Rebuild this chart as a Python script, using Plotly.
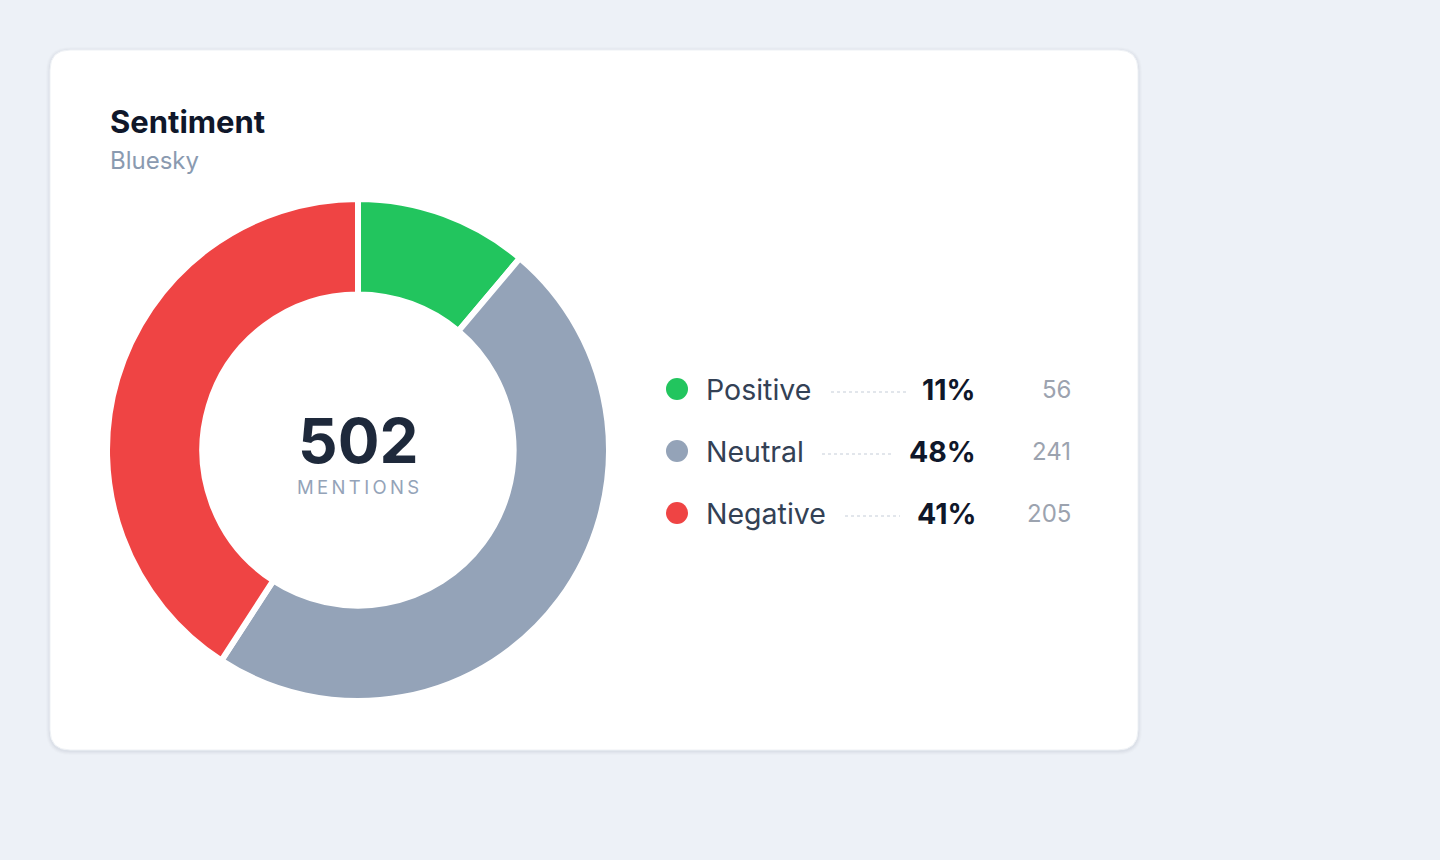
import plotly.graph_objects as go

# ---- data ----
categories = ["Positive", "Neutral", "Negative"]
counts = [56, 241, 205]
percent_labels = ["11%", "48%", "41%"]
colors = ["#22c55e", "#94a3b8", "#ef4444"]
total_label = "502"
title = "Sentiment"
subtitle = "Bluesky"
center_caption = "MENTIONS"

W, H = 1440, 860
FONT = "Inter, Noto Sans, sans-serif"

fig = go.Figure()

# invisible pixel-based axes for layout
fig.add_trace(go.Scatter(x=[0, W], y=[0, H], mode="markers",
                         marker=dict(opacity=0), hoverinfo="skip", showlegend=False))

# donut
cx, cy, R = 358, 450, 251
fig.add_trace(go.Pie(
    labels=categories, values=counts,
    marker=dict(colors=colors, line=dict(color="#ffffff", width=6)),
    hole=0.62, sort=False, direction="clockwise", rotation=0,
    textinfo="none", hoverinfo="label+value+percent", showlegend=False,
    domain=dict(x=[(cx - R) / W, (cx + R) / W], y=[(H - cy - R) / H, (H - cy + R) / H]),
))

shapes = []
def rrect(x0, y0, x1, y1, r):
    return (f"M {x0+r},{y0} L {x1-r},{y0} Q {x1},{y0} {x1},{y0+r} "
            f"L {x1},{y1-r} Q {x1},{y1} {x1-r},{y1} L {x0+r},{y1} "
            f"Q {x0},{y1} {x0},{y1-r} L {x0},{y0+r} Q {x0},{y0} {x0+r},{y0} Z")

# soft shadow
for i, op in enumerate([0.025, 0.02, 0.015, 0.01]):
    d = i + 1
    shapes.append(dict(type="path", xref="x", yref="y", layer="below",
                       path=rrect(50 - d, 50 - d + 1, 1138 + d, 750 + d + 1, 20 + d),
                       fillcolor=f"rgba(15,23,42,{op})", line=dict(width=0)))
# card
shapes.append(dict(type="path", xref="x", yref="y", layer="below",
                   path=rrect(50, 50, 1138, 750, 20),
                   fillcolor="#ffffff", line=dict(color="#eef1f5", width=1)))

annotations = [
    dict(x=108, y=121, text=f"<b>{title}</b>", xanchor="left", yanchor="middle",
         font=dict(family=FONT, size=31, color="#0f172a")),
    dict(x=108, y=160, text=subtitle, xanchor="left", yanchor="middle",
         font=dict(family=FONT, size=24, color="#8a9ab0")),
    dict(x=cx, y=440, text=f"<b>{total_label}</b>", xanchor="center", yanchor="middle",
         font=dict(family=FONT, size=62, color="#1e293b")),
    dict(x=cx, y=487, text="\u2009".join(center_caption), xanchor="center", yanchor="middle",
         font=dict(family=FONT, size=18.5, color="#94a3b8")),
]

row_y = [389, 451, 513]
leader_x = [(831, 906), (822, 892), (845, 900)]
for i, cat in enumerate(categories):
    y = row_y[i]
    shapes.append(dict(type="circle", xref="x", yref="y", x0=666, x1=688, y0=y - 11, y1=y + 11,
                       fillcolor=colors[i], line=dict(width=0)))
    annotations.append(dict(x=704, y=y + 0.5, text=cat, xanchor="left", yanchor="middle",
                            font=dict(family=FONT, size=28.5, color="#334155")))
    annotations.append(dict(x=978, y=y + 0.5, text=f"<b>{percent_labels[i]}</b>", xanchor="right",
                            yanchor="middle", font=dict(family=FONT, size=28.5, color="#0f172a")))
    annotations.append(dict(x=1073, y=y, text=str(counts[i]), xanchor="right", yanchor="middle",
                            font=dict(family=FONT, size=24, color="#9ca3af")))
    shapes.append(dict(type="line", xref="x", yref="y", x0=leader_x[i][0], x1=leader_x[i][1],
                       y0=y + 3, y1=y + 3, line=dict(color="#c5cdd8", width=1, dash="dot")))

for a in annotations:
    a.update(xref="x", yref="y", showarrow=False)

fig.update_layout(
    width=W, height=H, margin=dict(l=0, r=0, t=0, b=0),
    paper_bgcolor="#edf1f7", plot_bgcolor="rgba(0,0,0,0)",
    xaxis=dict(range=[0, W], visible=False, fixedrange=True),
    yaxis=dict(range=[H, 0], visible=False, fixedrange=True),
    shapes=shapes, annotations=annotations, showlegend=False,
)

fig.write_html("out.html", config={"displayModeBar": False})
